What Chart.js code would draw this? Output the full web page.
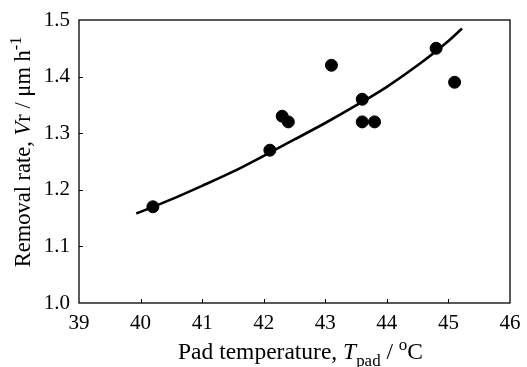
<!DOCTYPE html>
<html>
<head>
<meta charset="utf-8">
<script src="https://cdn.jsdelivr.net/npm/chart.js@4"></script>
<style>
  html, body { margin: 0; padding: 0; background: #fff; }
  #wrap { width: 527px; height: 367px; }
</style>
</head>
<body>
<div id="wrap"><canvas id="rateChart"></canvas></div>
<script>
// measured points (pad temperature in degC, removal rate in um/h)
const padTemp = [40.2, 42.1, 42.3, 42.4, 43.1, 43.6, 43.6, 43.8, 44.8, 45.1];
const removalRate = [1.17, 1.27, 1.33, 1.32, 1.42, 1.36, 1.32, 1.32, 1.45, 1.39];

// fitted curve
const fitTemp = [39.93, 40.5, 41.0, 41.5, 42.0, 42.5, 43.0, 43.5, 44.0, 44.5, 45.0, 45.22];
const fitRate = [1.158, 1.183, 1.207, 1.232, 1.260, 1.289, 1.318, 1.349, 1.382, 1.420, 1.463, 1.485];

const xTicks = [39, 40, 41, 42, 43, 44, 45, 46];
const yTicks = [1.0, 1.1, 1.2, 1.3, 1.4, 1.5];

const SERIF = '"Liberation Serif", "Times New Roman", serif';

// axis titles with italic / sub / sup parts
const xTitle = [
  { t: 'Pad temperature, ' },
  { t: 'T', it: true },
  { t: 'pad', sub: true },
  { t: ' / ' },
  { t: 'o', sup: true },
  { t: 'C' }
];
const yTitle = [
  { t: 'Removal rate, ' },
  { t: 'V', it: true },
  { t: 'r / \u03bcm h' },
  { t: '-1', sup: true }
];

function partFont(p, size) {
  const s = (p.sub || p.sup) ? size * 0.72 : size;
  return (p.it ? 'italic ' : '') + s + 'px ' + SERIF;
}

function drawRich(ctx, parts, size) {
  let total = 0;
  parts.forEach(p => {
    ctx.font = partFont(p, size);
    p.w = ctx.measureText(p.t).width;
    total += p.w;
  });
  let x = -total / 2;
  parts.forEach(p => {
    ctx.font = partFont(p, size);
    let dy = 0;
    if (p.sub) dy = size * 0.28;
    if (p.sup) dy = -size * 0.38;
    ctx.fillText(p.t, x, dy);
    x += p.w;
  });
}

const framePlugin = {
  id: 'frame',
  afterDraw(chart) {
    const { ctx, chartArea: a, scales } = chart;
    ctx.save();
    ctx.strokeStyle = '#000';
    ctx.lineWidth = 1.3;
    ctx.strokeRect(a.left, a.top, a.right - a.left, a.bottom - a.top);

    // inward tick marks
    ctx.lineWidth = 1;
    ctx.beginPath();
    xTicks.slice(1, -1).forEach(v => {
      const px = Math.round(scales.x.getPixelForValue(v)) + 0.5;
      ctx.moveTo(px, a.bottom);
      ctx.lineTo(px, a.bottom - 4);
    });
    yTicks.slice(1, -1).forEach(v => {
      const py = Math.round(scales.y.getPixelForValue(v)) + 0.5;
      ctx.moveTo(a.left, py);
      ctx.lineTo(a.left + 4, py);
    });
    ctx.stroke();

    // axis titles
    ctx.fillStyle = '#000';
    ctx.textBaseline = 'alphabetic';
    ctx.textAlign = 'left';
    ctx.save();
    ctx.translate((a.left + a.right) / 2 + 6, 359);
    drawRich(ctx, xTitle, 23.5);
    ctx.restore();

    ctx.save();
    ctx.translate(30, 152);
    ctx.rotate(-Math.PI / 2);
    drawRich(ctx, yTitle, 22.5);
    ctx.restore();
    ctx.restore();
  }
};

new Chart(document.getElementById('rateChart'), {
  type: 'scatter',
  data: {
    datasets: [
      {
        label: 'Measured',
        data: padTemp.map((t, i) => ({ x: t, y: removalRate[i] })),
        backgroundColor: '#000',
        borderColor: '#000',
        pointRadius: 6,
        pointHoverRadius: 6,
        order: 0
      },
      {
        label: 'Fit',
        type: 'line',
        data: fitTemp.map((t, i) => ({ x: t, y: fitRate[i] })),
        borderColor: '#000',
        borderWidth: 2.6,
        pointRadius: 0,
        tension: 0.4,
        cubicInterpolationMode: 'monotone',
        fill: false,
        order: 1
      }
    ]
  },
  options: {
    responsive: true,
    maintainAspectRatio: false,
    animation: false,
    layout: { padding: { top: 20, right: 17, left: 0, bottom: 0 } },
    plugins: {
      legend: { display: false },
      tooltip: { enabled: false }
    },
    scales: {
      x: {
        type: 'linear',
        min: xTicks[0],
        max: xTicks[xTicks.length - 1],
        grid: { display: false, drawTicks: false },
        border: { display: false },
        ticks: {
          color: '#000',
          padding: 8,
          font: { family: SERIF, size: 21 }
        },
        afterBuildTicks: s => { s.ticks = xTicks.map(v => ({ value: v })); },
        afterFit: s => { s.height = 64; s.paddingLeft = 0; s.paddingRight = 0; }
      },
      y: {
        type: 'linear',
        min: yTicks[0],
        max: yTicks[yTicks.length - 1],
        grid: { display: false, drawTicks: false },
        border: { display: false },
        ticks: {
          color: '#000',
          padding: 9,
          font: { family: SERIF, size: 21 },
          callback: v => Number(v).toFixed(1)
        },
        afterBuildTicks: s => { s.ticks = yTicks.map(v => ({ value: v })); },
        afterFit: s => { s.width = 79; s.paddingTop = 0; s.paddingBottom = 0; }
      }
    }
  },
  plugins: [framePlugin]
});
</script>
</body>
</html>
